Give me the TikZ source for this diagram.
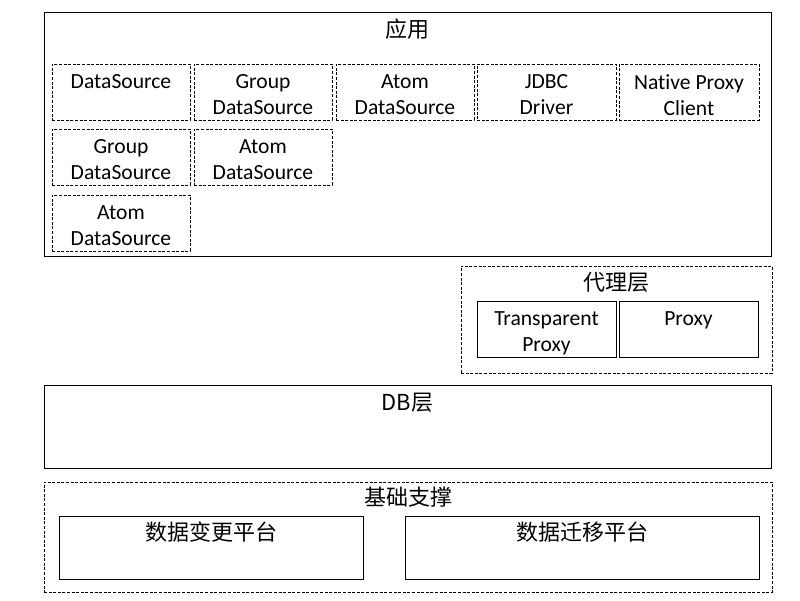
\documentclass[tikz,border=0pt]{standalone}
\usepackage{fontspec}
\setmainfont{Carlito}[Ligatures=NoCommon]
\newfontfamily\cjk{Noto Sans CJK SC}
\usetikzlibrary{fit,positioning}

\begin{document}
\begin{tikzpicture}[x=1pt,y=-1pt,
    box/.style={draw, line width=0.9pt, inner sep=0pt},
    dbox/.style={box, dash pattern=on 3pt off 1.6pt},
    entxt/.style={font=\fontsize{21.6}{26}\selectfont, align=center, inner sep=0pt},
    cntxt/.style={font=\cjk\fontsize{22}{26}\selectfont, inner sep=0pt}]
  \useasboundingbox (0,0) rectangle (800,601);

  % application layer
  \node[box, fit={(44,12) (771,256)}] (app) {};
  \node[cntxt, yshift=-18pt] (apptitle) at (app.north) {应用};
  \foreach \name/\xa/\xb/\ya/\yb/\txt in {
      ds/52/190/64/120/DataSource,
      gds/194/332/64/120/{Group\\DataSource},
      ads/336/474/64/120/{Atom\\DataSource},
      jdbc/477/616/64/120/{JDBC\\Driver},
      npc/619/759/64/120/{Native Proxy\\Client},
      gdsb/52/190/129/185/{Group\\DataSource},
      adsb/194/332/129/185/{Atom\\DataSource},
      adsc/52/190/195/251/{Atom\\DataSource}}
  {
    \node[dbox, fit={(\xa,\ya) (\xb,\yb)}] (\name) {};
    \node[entxt, below=11pt of \name.north] (\name-t) {\txt};
  }

  % proxy layer
  \node[dbox, fit={(461,266) (772,373)}] (proxy) {};
  \node[cntxt, yshift=-17pt] (proxytitle) at (proxy.north) {代理层};
  \node[box, fit={(477,301) (616,357)}] (tp) {};
  \node[entxt, below=11pt of tp.north] (tp-t) {Transparent\\Proxy};
  \node[box, fit={(619,301) (758,357)}] (px) {};
  \node[entxt, below=11pt of px.north] (px-t) {Proxy};

  % db layer
  \node[box, fit={(44,385) (771,468)}] (db) {};
  \node[cntxt, yshift=-18pt] (dbtitle) at (db.north) {DB层};

  % base support
  \node[dbox, fit={(44,482) (772,592)}] (base) {};
  \node[cntxt, yshift=-16pt] (basetitle) at (base.north) {基础支撑};
  \node[box, fit={(59,516) (363,579)}] (chg) {};
  \node[cntxt, yshift=-17pt] (chg-t) at (chg.north) {数据变更平台};
  \node[box, fit={(405,516) (759,579)}] (mig) {};
  \node[cntxt, yshift=-17pt] (mig-t) at (mig.north) {数据迁移平台};
\end{tikzpicture}
\end{document}
